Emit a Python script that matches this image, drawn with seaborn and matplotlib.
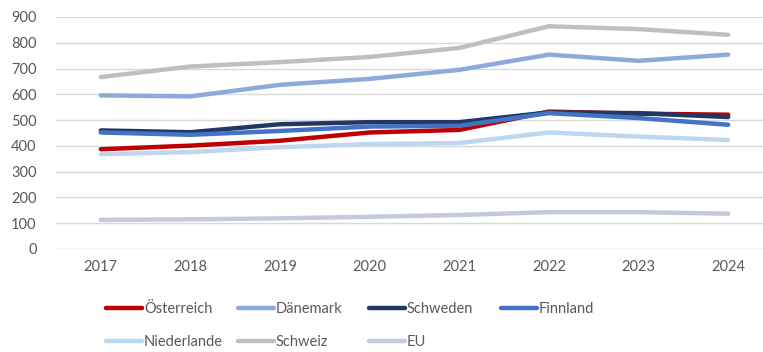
import matplotlib
matplotlib.use("Agg")
import matplotlib.pyplot as plt
import seaborn as sns
import pandas as pd
from matplotlib.lines import Line2D

years = ["2017", "2018", "2019", "2020", "2021", "2022", "2023", "2024"]

oesterreich = [387, 401, 420, 452, 462, 533, 525, 521]
daenemark = [596, 592, 637, 660, 695, 754, 730, 754]
schweden = [460, 453, 484, 492, 492, 530, 527, 512]
finnland = [452, 443, 458, 475, 478, 527, 508, 482]
niederlande = [368, 376, 395, 407, 411, 452, 436, 423]
schweiz = [667, 708, 725, 745, 780, 864, 853, 831]
eu = [113, 115, 119, 125, 132, 143, 143, 137]

series = {
    "Österreich": oesterreich,
    "Dänemark": daenemark,
    "Schweden": schweden,
    "Finnland": finnland,
    "Niederlande": niederlande,
    "Schweiz": schweiz,
    "EU": eu,
}
colors = {
    "Österreich": "#C00000",
    "Dänemark": "#8EA9DB",
    "Schweden": "#203864",
    "Finnland": "#4472C4",
    "Niederlande": "#BDD7EE",
    "Schweiz": "#BFBFBF",
    "EU": "#C3CADF",
}

rows = []
for name, vals in series.items():
    for i, (y, v) in enumerate(zip(years, vals)):
        rows.append({"idx": i, "Jahr": y, "Land": name, "Wert": v})
df = pd.DataFrame(rows)

sns.set_style("white")
plt.rcParams["font.family"] = ["Lato", "DejaVu Sans"]
text_color = "#595959"

fig = plt.figure(figsize=(7.63, 3.52), dpi=100)
ax = fig.add_axes([56 / 763, 103 / 352, 717 / 763, 232 / 352])

sns.lineplot(data=df, x="idx", y="Wert", hue="Land", hue_order=list(series.keys()),
             palette=colors, linewidth=3.2, ax=ax, legend=False,
             solid_capstyle="round")

ax.set_xlim(-0.5, len(years) - 0.5)
ax.set_ylim(0, 900)
ax.set_yticks(range(0, 901, 100))
ax.set_xticks(range(len(years)))
ax.set_xticklabels(years)
ax.set_xlabel("")
ax.set_ylabel("")
ax.grid(axis="y", color="#D9D9D9", linewidth=1.0)
ax.set_axisbelow(True)
for s in ax.spines.values():
    s.set_visible(False)
ax.tick_params(axis="both", length=0, labelsize=10.5, colors=text_color)
ax.tick_params(axis="y", pad=14)
ax.tick_params(axis="x", pad=8)

# Legend laid out as four equally spaced columns
columns = [["Österreich", "Niederlande"], ["Dänemark", "Schweiz"],
           ["Schweden", "EU"], ["Finnland"]]
col_x = [106, 238, 369, 501]
for cx, col in zip(col_x, columns):
    handles = [Line2D([0], [0], color=colors[n], linewidth=3.2, solid_capstyle="round") for n in col]
    leg = fig.legend(handles, col, loc="upper left",
                     bbox_to_anchor=(cx / 763, 1 - 302 / 352),
                     frameon=False, fontsize=10.5, handlelength=2.5,
                     handletextpad=0.1, labelspacing=1.33, borderaxespad=0,
                     borderpad=0)
    for t in leg.get_texts():
        t.set_color(text_color)

fig.savefig("out.png", dpi=100)
